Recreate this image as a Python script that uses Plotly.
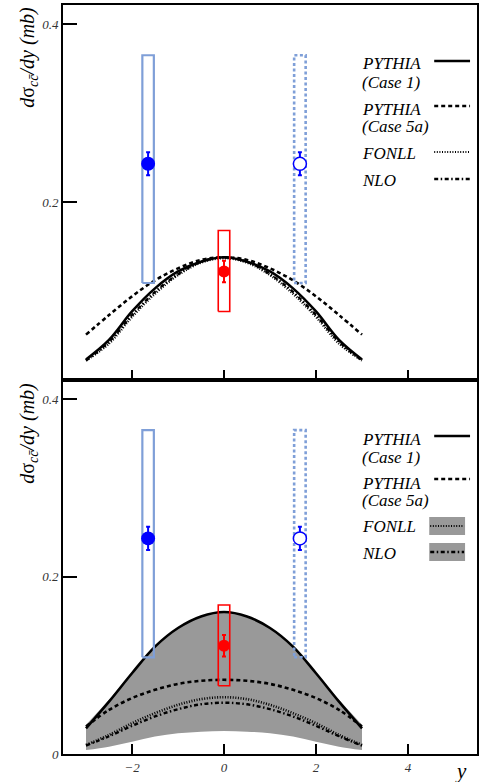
import plotly.graph_objects as go
from plotly.subplots import make_subplots

# ---------------- data ----------------
rap = [-3, -2.5, -2, -1.5, -1, -0.5, 0, 0.5, 1, 1.5, 2, 2.5, 3]

# top panel (curves normalised)
pythia1_top = [0.023, 0.045, 0.077, 0.103, 0.122, 0.133, 0.138, 0.133, 0.122, 0.103, 0.077, 0.045, 0.023]
pythia5a_top = [0.051, 0.073, 0.094, 0.112, 0.1255, 0.135, 0.138, 0.135, 0.1255, 0.112, 0.094, 0.073, 0.051]
fonll_top = [0.022, 0.041, 0.071, 0.097, 0.118, 0.132, 0.137, 0.132, 0.118, 0.097, 0.071, 0.041, 0.022]
nlo_top = [0.022, 0.043, 0.073, 0.099, 0.119, 0.133, 0.138, 0.133, 0.119, 0.099, 0.073, 0.043, 0.022]

# bottom panel (absolute)
pythia1_bot = [0.029, 0.059, 0.091, 0.121, 0.142, 0.155, 0.160, 0.155, 0.142, 0.121, 0.091, 0.059, 0.029]
pythia5a_bot = [0.031, 0.0497, 0.063, 0.0723, 0.079, 0.0825, 0.0836, 0.0825, 0.079, 0.0723, 0.063, 0.0497, 0.031]
fonll_bot = [0.0102, 0.0215, 0.0347, 0.046, 0.0554, 0.0618, 0.064, 0.0618, 0.0554, 0.046, 0.0347, 0.0215, 0.0102]
nlo_bot = [0.0095, 0.020, 0.0317, 0.0423, 0.0505, 0.056, 0.0578, 0.056, 0.0505, 0.0423, 0.0317, 0.020, 0.0095]
band_hi = [0.033, 0.061, 0.092, 0.121, 0.142, 0.155, 0.160, 0.155, 0.142, 0.121, 0.092, 0.061, 0.033]
band_lo = [0.0045, 0.0083, 0.0139, 0.0196, 0.0234, 0.0252, 0.026, 0.0252, 0.0234, 0.0196, 0.0139, 0.0083, 0.0045]

# data points
blue_x = -1.65
blue_y = 0.243
blue_err = 0.013
blue_sys = [0.109, 0.365]
open_x = 1.65
open_y = 0.243
open_err = 0.013
open_sys = [0.109, 0.365]
red_x = 0.0
red_y = 0.122
red_err = 0.012
red_sys = [0.077, 0.168]

y_range = [0, 0.4215]
x_range = [-3.5, 5.5]

# ---------------- figure ----------------
W, H = 481, 782
ML, MR, MT, MB = 63, 2, 5, 28
PH = H - MT - MB
split = (754 - 380) / PH

fig = make_subplots(rows=2, cols=1, vertical_spacing=0)

BOX_BLUE = "#7f9fd8"
LW = 2.6


def px2paper(px, py):
    return (px - ML) / (W - ML - MR), (754 - py) / PH


def box(x0, hw, lo, hi, color, dash, width, row):
    fig.add_trace(go.Scatter(x=[x0 - hw, x0 + hw, x0 + hw, x0 - hw, x0 - hw],
                             y=[lo, lo, hi, hi, lo], mode="lines",
                             line=dict(color=color, dash=dash, width=width),
                             hoverinfo="skip", showlegend=False), row=row, col=1)


def curve(y, dash, row, width=LW):
    fig.add_trace(go.Scatter(x=rap, y=y, mode="lines",
                             line=dict(color="black", dash=dash, width=width, shape="spline"),
                             showlegend=False), row=row, col=1)


DASH5A = "4px,3px"
DOTF = "1px,1.6px"
DASHDOT = "4px,2.5px,1.5px,2.5px"

for row in (1, 2):
    if row == 2:
        fig.add_trace(go.Scatter(x=rap, y=band_lo, mode="lines", line=dict(width=0, shape="spline"),
                                 showlegend=False, hoverinfo="skip"), row=2, col=1)
        fig.add_trace(go.Scatter(x=rap, y=band_hi, mode="lines", line=dict(width=0, shape="spline"),
                                 fill="tonexty", fillcolor="#999999",
                                 showlegend=False, hoverinfo="skip"), row=2, col=1)
        c1, c5, cf, cn = pythia1_bot, pythia5a_bot, fonll_bot, nlo_bot
    else:
        c1, c5, cf, cn = pythia1_top, pythia5a_top, fonll_top, nlo_top
    curve(cf, DOTF, row, 2.6)
    curve(cn, DASHDOT, row, 2.4)
    curve(c5, DASH5A, row, 2.6)
    curve(c1, "solid", row, 2.6)

    box(blue_x, 0.125, blue_sys[0], blue_sys[1], BOX_BLUE, "solid", 2.2, row)
    box(open_x, 0.125, open_sys[0], open_sys[1], BOX_BLUE, "3px,2.5px", 2.6, row)
    box(red_x, 0.125, red_sys[0], red_sys[1], "#ff0000", "solid", 1.6, row)

    fig.add_trace(go.Scatter(x=[blue_x], y=[blue_y], mode="markers",
                             marker=dict(color="#0000ff", size=14, line=dict(width=0)),
                             error_y=dict(type="constant", value=blue_err, color="#0000ff", thickness=2, width=2),
                             showlegend=False), row=row, col=1)
    fig.add_trace(go.Scatter(x=[open_x], y=[open_y], mode="markers",
                             marker=dict(color="white", size=13, line=dict(width=1.5, color="#0000ff")),
                             error_y=dict(type="constant", value=open_err, color="#0000ff", thickness=2, width=2),
                             showlegend=False), row=row, col=1)
    fig.add_trace(go.Scatter(x=[red_x], y=[red_y], mode="markers",
                             marker=dict(color="#ff0000", size=12, line=dict(width=0)),
                             error_y=dict(type="constant", value=red_err, color="#ff0000", thickness=2, width=2),
                             showlegend=False), row=row, col=1)

tickfont = dict(family="Liberation Serif", size=13, color="#333333", style="italic")
axis_common = dict(showline=True, linewidth=2, linecolor="black", mirror=True,
                   showgrid=False, zeroline=False, ticks="inside", tickcolor="black", tickwidth=2)

fig.update_xaxes(range=x_range, tickvals=[-2, 0, 2, 4], ticklen=10, tickfont=tickfont, **axis_common)
fig.update_xaxes(showticklabels=False, row=1, col=1)
fig.update_yaxes(range=y_range, ticklen=14, tickfont=tickfont, **axis_common)
fig.update_yaxes(tickvals=[0.2, 0.4], ticktext=["0.2", "0.4"], domain=[split, 1], row=1, col=1)
fig.update_yaxes(tickvals=[0, 0.2, 0.4], ticktext=["0", "0.2", "0.4"], domain=[0, split], row=2, col=1)

# ---------------- annotations / legends ----------------
ann = []
LF = dict(family="Liberation Serif", size=17, color="black", style="italic")


def text_at(px, py, txt, font=LF, xanchor="left"):
    x, y = px2paper(px, py)
    ann.append(dict(x=x, y=y, xref="paper", yref="paper", text=txt, showarrow=False,
                    xanchor=xanchor, yanchor="middle", font=font))


shapes = []


def sample_line(py, dash, x0=436, x1=472, width=2.6):
    xa, ya = px2paper(x0, py)
    xb, _ = px2paper(x1, py)
    shapes.append(dict(type="line", xref="paper", yref="paper", x0=xa, x1=xb, y0=ya, y1=ya,
                       line=dict(color="black", width=width, dash=dash)))


def sample_box(py0, py1, x0=431, x1=467):
    xa, ya = px2paper(x0, py1)
    xb, yb = px2paper(x1, py0)
    shapes.append(dict(type="rect", xref="paper", yref="paper", x0=xa, x1=xb, y0=ya, y1=yb,
                       fillcolor="#999999", line=dict(width=0), layer="above"))


# top legend
text_at(361, 64, "PYTHIA")
text_at(361, 82, "(Case 1)")
text_at(361, 109, "PYTHIA")
text_at(361, 127, "(Case 5a)")
text_at(361, 153, "FONLL")
text_at(361, 180, "NLO")
sample_line(61, "solid")
sample_line(106, DASH5A)
sample_line(152, DOTF, width=2)
sample_line(179, DASHDOT)

# bottom legend
text_at(361, 439, "PYTHIA")
text_at(361, 457, "(Case 1)")
text_at(361, 483, "PYTHIA")
text_at(361, 501, "(Case 5a)")
text_at(361, 527, "FONLL")
text_at(361, 553, "NLO")
sample_line(436, "solid")
sample_line(479, DASH5A)
sample_box(517, 535)
sample_line(526, DOTF, x0=432, x1=466, width=2)
sample_box(543, 561)
sample_line(552, DASHDOT, x0=432, x1=466)

# y-axis titles
ytitle = "<i>d</i>σ<sub><i>cc̄</i></sub><i>/dy (mb)</i>"
for top_py in (5, 381):
    x, y = px2paper(28, top_py)
    ann.append(dict(x=x, y=y, xref="paper", yref="paper", text=ytitle, showarrow=False,
                    textangle=-90, xanchor="center", yanchor="top",
                    font=dict(family="Liberation Serif", size=20, color="black")))

# x-axis title
x, y = px2paper(463, 771)
ann.append(dict(x=x, y=y, xref="paper", yref="paper", text="y", showarrow=False,
                xanchor="center", yanchor="middle",
                font=dict(family="Liberation Serif", size=21, color="black", style="italic")))

fig.update_layout(width=W, height=H, margin=dict(l=ML, r=MR, t=MT, b=MB),
                  paper_bgcolor="white", plot_bgcolor="white", showlegend=False,
                  annotations=ann, shapes=shapes)

fig.write_html("out.html")
